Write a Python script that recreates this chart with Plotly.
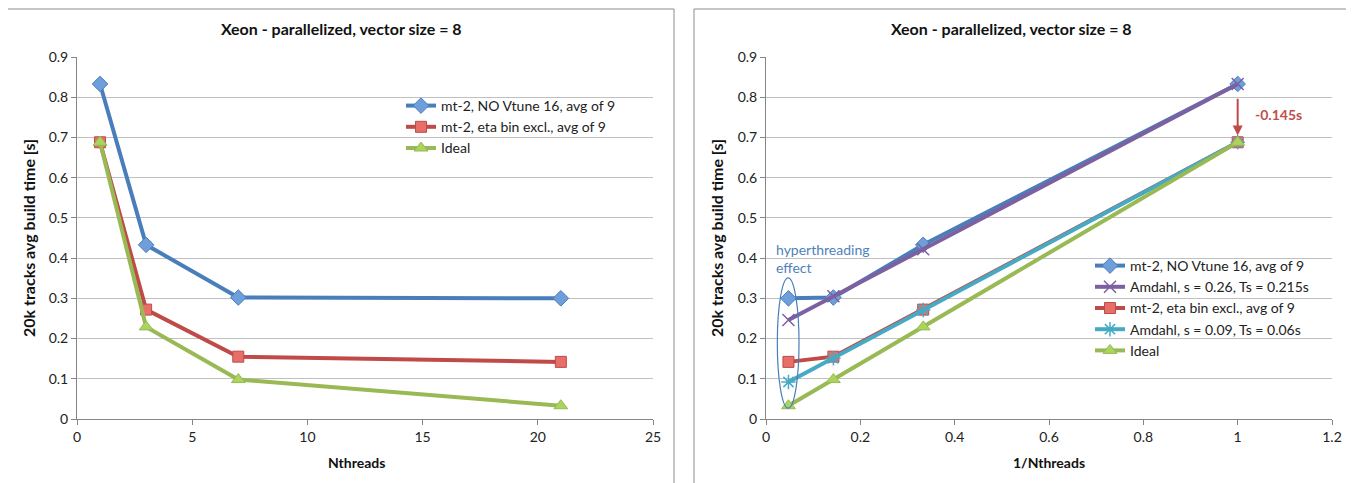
import plotly.graph_objects as go

# ---- data ----
nthreads = [1, 3, 7, 21]
inv_nthreads = [1.0, 0.3333, 0.1429, 0.0476]
mt2_novtune = [0.833, 0.433, 0.302, 0.300]
mt2_etabin = [0.688, 0.272, 0.155, 0.142]
ideal = [0.688, 0.229, 0.098, 0.033]
amdahl_026 = [0.833, 0.422, 0.305, 0.246]
amdahl_009 = [0.688, 0.271, 0.151, 0.092]

title_text = "Xeon - parallelized, vector size = 8"
ytitle = "20k tracks avg build time [s]"

FONT = "Lato"
BLUE, BLUE_F = "#4A7EBB", "#6E9FDB"
RED, RED_F = "#BE4B48", "#E86E6A"
GREEN, GREEN_F = "#98B954", "#A9D45E"
PURPLE = "#7D60A0"
CYAN = "#46AAC5"

W, H = 1354, 483
DX, DY = -7, -7  # page offset compensation


def px(x):
    return (x + DX) / W


def py(y):
    return 1 - (y + DY) / H


fig = go.Figure()


def add(x, y, name, color, fill, symbol, xa, ya, legend, size=11, mlw=1):
    fig.add_trace(go.Scatter(
        x=x, y=y, name=name, mode="lines+markers",
        line=dict(color=color, width=4),
        marker=dict(symbol=symbol, size=size, color=fill,
                    line=dict(color=color, width=mlw)),
        xaxis=xa, yaxis=ya, legend=legend))


# left chart
add(nthreads, mt2_novtune, "mt-2, NO Vtune 16, avg of 9", BLUE, BLUE_F, "diamond", "x", "y", "legend", size=12)
add(nthreads, mt2_etabin, "mt-2, eta bin excl., avg of 9", RED, RED_F, "square", "x", "y", "legend")
add(nthreads, ideal, "Ideal", GREEN, GREEN_F, "triangle-up", "x", "y", "legend", size=12)

# right chart
add(inv_nthreads, mt2_novtune, "mt-2, NO Vtune 16, avg of 9", BLUE, BLUE_F, "diamond", "x2", "y2", "legend2", size=12)
add(inv_nthreads, amdahl_026, "Amdahl, s = 0.26, Ts = 0.215s", PURPLE, PURPLE, "x-thin-open", "x2", "y2", "legend2", size=12, mlw=1.5)
add(inv_nthreads, mt2_etabin, "mt-2, eta bin excl., avg of 9", RED, RED_F, "square", "x2", "y2", "legend2")
add(inv_nthreads, amdahl_009, "Amdahl, s = 0.09, Ts = 0.06s", CYAN, CYAN, "asterisk-open", "x2", "y2", "legend2", size=12, mlw=1.5)
add(inv_nthreads, ideal, "Ideal", GREEN, GREEN_F, "triangle-up", "x2", "y2", "legend2", size=12)

axis_common = dict(showline=True, linecolor="#868686", linewidth=1,
                   ticks="outside", ticklen=5, tickcolor="#868686",
                   tickfont=dict(family=FONT, size=14, color="#222"),
                   zeroline=False, automargin=False)
ydom = [py(418), py(56)]

fig.update_layout(
    width=W, height=H,
    margin=dict(l=0, r=0, t=0, b=0, autoexpand=False),
    paper_bgcolor="white", plot_bgcolor="white",
    font=dict(family=FONT, size=13, color="#222"),
    xaxis=dict(domain=[px(76), px(652)], range=[0, 25], dtick=5,
               showgrid=False, anchor="y", **axis_common),
    yaxis=dict(domain=ydom, range=[0, 0.9], dtick=0.1, showgrid=True,
               gridcolor="#C0C0C0", anchor="x", **axis_common),
    xaxis2=dict(domain=[px(765), px(1331)], range=[0, 1.2], dtick=0.2,
                showgrid=False, anchor="y2", **axis_common),
    yaxis2=dict(domain=ydom, range=[0, 0.9], dtick=0.1, showgrid=True,
                gridcolor="#C0C0C0", anchor="x2", **axis_common),
    legend=dict(x=px(400), y=py(89), xanchor="left", yanchor="top",
                bgcolor="rgba(0,0,0,0)", font=dict(family=FONT, size=14, color="#222"),
                tracegroupgap=0, itemwidth=30),
    legend2=dict(x=px(1089), y=py(249), xanchor="left", yanchor="top",
                 bgcolor="rgba(0,0,0,0)", font=dict(family=FONT, size=14, color="#222"),
                 tracegroupgap=0, itemwidth=30),
    showlegend=True,
)

# chart borders
fig.add_shape(type="rect", xref="paper", yref="paper",
              x0=px(5), x1=px(673), y0=-0.1, y1=py(8),
              line=dict(color="#8C8C8C", width=1))
fig.add_shape(type="rect", xref="paper", yref="paper",
              x0=px(693), x1=1.1, y0=-0.1, y1=py(8),
              line=dict(color="#8C8C8C", width=1))

# titles
for cx in (340, 1010):
    fig.add_annotation(text="<b>%s</b>" % title_text, x=px(cx), y=py(28),
                       xref="paper", yref="paper", showarrow=False,
                       xanchor="center", yanchor="middle",
                       font=dict(family=FONT, size=16, color="#111"))
fig.add_annotation(text="<b>Nthreads</b>", x=px(355), y=py(461),
                   xref="paper", yref="paper", showarrow=False,
                   xanchor="center", yanchor="middle",
                   font=dict(family=FONT, size=14, color="#111"))
fig.add_annotation(text="<b>1/Nthreads</b>", x=px(1048), y=py(461),
                   xref="paper", yref="paper", showarrow=False,
                   xanchor="center", yanchor="middle",
                   font=dict(family=FONT, size=14, color="#111"))
for cx in (27, 715):
    fig.add_annotation(text="<b>%s</b>" % ytitle, x=px(cx), y=py(237),
                       xref="paper", yref="paper", showarrow=False, textangle=-90,
                       xanchor="center", yanchor="middle",
                       font=dict(family=FONT, size=16, color="#111"))

# hyperthreading ellipse + label
fig.add_shape(type="circle", xref="x2", yref="y2",
              x0=0.024, x1=0.070, y0=0.027, y1=0.351,
              line=dict(color=BLUE, width=1.2))
fig.add_annotation(text="hyperthreading<br>effect", x=px(773), y=py(238),
                   xref="paper", yref="paper", showarrow=False, xanchor="left",
                   yanchor="top", align="left",
                   font=dict(family=FONT, size=14, color="#4F81BD"))

# arrow -0.145s
fig.add_annotation(x=1, y=0.705, ax=1, ay=0.80, xref="x2", yref="y2",
                   axref="x2", ayref="y2", showarrow=True, arrowhead=2,
                   arrowsize=1, arrowwidth=2, arrowcolor=RED, text="")
fig.add_annotation(text="<b>-0.145s</b>", x=px(1252), y=py(113),
                   xref="paper", yref="paper", showarrow=False, xanchor="left",
                   yanchor="middle",
                   font=dict(family=FONT, size=14, color="#C0504D"))

fig.write_html("out.html")
